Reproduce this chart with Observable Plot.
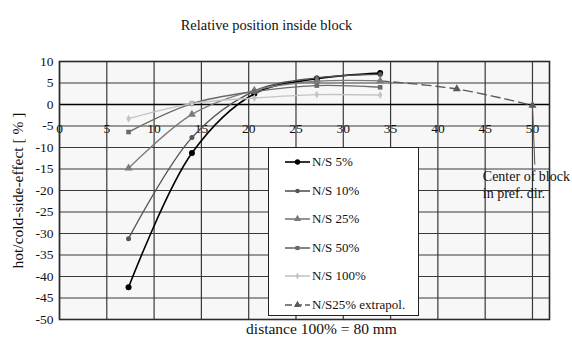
<!DOCTYPE html>
<html><head><meta charset="utf-8">
<script src="https://cdn.jsdelivr.net/npm/d3@7"></script>
<script src="https://cdn.jsdelivr.net/npm/@observablehq/plot@0.6"></script>
<style>
body{margin:0;background:#fff;font-family:"Liberation Serif","Times New Roman",Times,serif;}
#wrap{position:relative;width:572px;height:342px;overflow:hidden;}
#legend{position:absolute;left:268px;top:147px;width:151px;height:169px;border:1px solid #222;background:#fff;box-sizing:border-box;font-size:13px;color:#111;}
.le{position:absolute;left:16px;height:16px;display:flex;align-items:center;}
.le span{margin-left:2px;}
</style></head><body><div id="wrap"><div id="legend"></div></div>
<script>
const xPos = [7.3, 14.0, 20.6, 27.2, 33.9];
const ns5 = [-42.5, -11.3, 2.5, 6.0, 7.3];
const ns10 = [-31.2, -7.7, 3.1, 6.2, 7.0];
const ns25 = [-14.8, -2.3, 3.3, 5.4, 5.5];
const ns50 = [-6.4, 0.2, 3.0, 4.4, 4.0];
const ns100 = [-3.3, 0.2, 1.5, 2.3, 2.2];
const extX = [33.9, 42.0, 50.0];
const extY = [5.5, 3.6, -0.2];
const seriesNames = ["N/S 5%", "N/S 10%", "N/S 25%", "N/S 50%", "N/S 100%", "N/S25% extrapol."];
const seriesColors = ["#000000", "#555555", "#7a7a7a", "#6a6a6a", "#c4c4c4", "#5a5a5a"];
const seriesSymbols = ["circle", "circle", "triangle", "square", "diamond", "triangle"];
const seriesR = [3, 2.5, 3, 2.6, 2.4, 3];
const xTicks = [0, 5, 10, 15, 20, 25, 30, 35, 40, 45, 50];
const yTicks = [10, 5, 0, -5, -10, -15, -20, -25, -30, -35, -40, -45, -50];
const titleText = "Relative position inside block";
const xLabel = "distance 100% = 80 mm";
const yLabel = "hot/cold-side-effect [ % ]";
const noteLines = ["Center of block", "in pref. dir."];

const ys = [ns5, ns10, ns25, ns50, ns100];
const rows = [];
ys.forEach((arr, i) => arr.forEach((v, j) => rows.push({s: seriesNames[i], x: xPos[j], y: v})));
const ext = extX.map((x, j) => ({s: seriesNames[5], x, y: extY[j]}));

const font = "Liberation Serif, Times New Roman, Times, serif";
const marks = [
  Plot.frame({fill: "#f7f7f7", stroke: "none"}),
  Plot.ruleX(xTicks, {stroke: "#3a3a3a", strokeWidth: 1.2}),
  Plot.ruleY(yTicks, {stroke: "#3a3a3a", strokeWidth: 1.2}),
  Plot.ruleY([0], {stroke: "#000", strokeWidth: 1.3}),
  Plot.frame({stroke: "#2a2a2a", strokeWidth: 1.6}),
  Plot.text(yTicks, {y: d => d, frameAnchor: "left", dx: -6, textAnchor: "end", text: d => String(d), fontSize: 13.5, fill: "#111"}),
  Plot.text(xTicks, {x: d => d, y: 0, dy: 24, text: d => String(d), fontSize: 13.5, fill: "#111"}),
];
seriesNames.slice(0, 5).forEach((name, i) => {
  const d = rows.filter(r => r.s === name);
  marks.push(Plot.line(d, {x: "x", y: "y", stroke: seriesColors[i], strokeWidth: i === 0 ? 1.6 : 1.4, curve: "catmull-rom"}));
});
marks.push(Plot.line(ext, {x: "x", y: "y", stroke: seriesColors[5], strokeWidth: 1.4, strokeDasharray: "9,5", curve: "catmull-rom"}));
seriesNames.slice(0, 5).forEach((name, i) => {
  const d = rows.filter(r => r.s === name);
  marks.push(Plot.dot(d, {x: "x", y: "y", symbol: () => seriesSymbols[i], r: seriesR[i], fill: seriesColors[i], stroke: "none"}));
});
marks.push(Plot.dot(ext.slice(1), {x: "x", y: "y", symbol: () => seriesSymbols[5], r: seriesR[5], fill: seriesColors[5], stroke: "none"}));
marks.push(Plot.link([ext[2]], {x1: "x", y1: "y", x2: d => d.x + 0.25, y2: () => -14, stroke: "#555", strokeWidth: 1}));
marks.push(Plot.text([noteLines.join("\n")], {x: () => 44.75, y: () => -18.5, text: d => d, textAnchor: "start", lineAnchor: "middle", lineHeight: 1.2, fontSize: 14, fill: "#111"}));
marks.push(Plot.text([titleText], {frameAnchor: "top", dx: -38, dy: -42, text: d => d, fontSize: 14.4, fill: "#111"}));
marks.push(Plot.text([xLabel], {frameAnchor: "bottom", dx: 17, dy: 14, text: d => d, fontSize: 15.5, fill: "#111"}));
marks.push(Plot.text([yLabel], {frameAnchor: "left", dx: -41, textAnchor: "middle", rotate: -90, text: d => d, fontSize: 15.5, fill: "#111"}));

const chart = Plot.plot({
  width: 572, height: 342,
  marginLeft: 59, marginRight: 23, marginTop: 61, marginBottom: 23,
  style: {fontFamily: font, background: "#fff", overflow: "visible"},
  x: {type: "linear", domain: [0, 51.8], axis: null},
  y: {type: "linear", domain: [-50, 10], axis: null},
  marks
});
document.getElementById("wrap").prepend(chart);

const lg = document.getElementById("legend");
seriesNames.forEach((name, i) => {
  const div = document.createElement("div");
  div.className = "le";
  div.style.top = (6 + i * 28.6) + "px";
  const key = "symbol" + seriesSymbols[i][0].toUpperCase() + seriesSymbols[i].slice(1);
  const sym = d3.symbol(d3[key], Math.PI * seriesR[i] * seriesR[i] * 0.8)();
  const dash = i === 5 ? 'stroke-dasharray="7,3"' : '';
  div.innerHTML = `<svg width="25" height="10" style="overflow:visible"><line x1="0" x2="25" y1="5" y2="5" stroke="${seriesColors[i]}" stroke-width="1.6" ${dash}/><path transform="translate(12.5,5)" d="${sym}" fill="${seriesColors[i]}"/></svg><span>${name}</span>`;
  lg.appendChild(div);
});
</script>
</body></html>
